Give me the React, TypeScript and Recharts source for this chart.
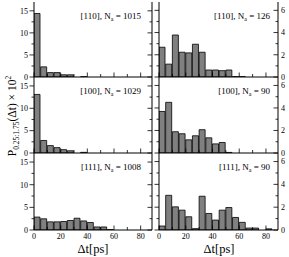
import React from 'react';
import { BarChart, Bar, XAxis, YAxis } from 'recharts';

// ---- data ----
const binCenters = [2.5, 7.5, 12.5, 17.5, 22.5, 27.5, 32.5, 37.5, 42.5, 47.5, 52.5, 57.5, 62.5, 67.5, 72.5, 77.5, 82.5];
const binWidth = 5;

const p110Left = [14.4, 2.3, 1.0, 1.0, 0.5, 0.5, 0, 0.08];
const p100Left = [13.1, 2.8, 1.66, 1.2, 0.75, 0.5, 0, 0.15];
const p111Left = [2.85, 2.47, 1.8, 1.8, 1.87, 2.1, 2.6, 2.0, 1.65, 0.67, 0.67, 0.08];

const p110Right = [2.68, 1.16, 3.78, 2.23, 2.17, 2.95, 2.23, 0.63, 0.63, 0.57, 0.63, 0.03, 0.03];
const p100Right = [3.69, 4.5, 1.89, 1.71, 1.17, 1.53, 2.07, 1.35, 0.81, 0.93, 0.05];
const p111Right = [0.35, 3.04, 2.03, 1.74, 1.16, 0.12, 2.96, 1.45, 0.87, 1.74, 1.97, 1.1, 0.67, 0.17, 0.17, 0, 0.1];

const xTicks = [0, 10, 20, 30, 40, 50, 60, 70, 80];
const leftYTicks = [0, 2.5, 5, 7.5, 10, 12.5, 15];
const rightYTicks = [0, 1, 2, 3, 4, 5, 6];

const labelsDir = ['[110]', '[100]', '[111]'];
const labelsNLeft = ['1015', '1029', '1008'];
const labelsNRight = ['126', '90', '90'];

const leftSeries = [p110Left, p100Left, p111Left];
const rightSeries = [p110Right, p100Right, p111Right];

// ---- layout ----
const colX = [34, 159];
const colW = [118, 119];
const colXMax = [88.5, 89];
const colYMax = [17, 6.75];
const rowY = [2, 77, 153];
const rowH = [75, 76, 77];
const AXL = 34;
const AXR = 12;
const MT = 6;
const AXB = 22;

const SERIF = '"Liberation Serif", "DejaVu Serif", "Times New Roman", serif';
const TICK_FS = 8;

const mkBottomTick = (showLabels: boolean) => (props: any) => {
  const { x, y, payload } = props;
  const major = payload.value % 20 === 0;
  return (
    <g>
      <line x1={x} y1={y} x2={x} y2={y - (major ? 4.5 : 3)} stroke="#000" strokeWidth={0.8} />
      {showLabels && major ? (
        <text x={x} y={y + 9} textAnchor="middle" fontFamily={SERIF} fontSize={TICK_FS} fill="#000">
          {payload.value}
        </text>
      ) : null}
    </g>
  );
};

const topTick = (props: any) => {
  const { x, y, payload } = props;
  const major = payload.value % 20 === 0;
  return <line x1={x} y1={y} x2={x} y2={y + (major ? 4.5 : 3)} stroke="#000" strokeWidth={0.8} />;
};

const mkLeftTick = (showLabels: boolean, majorStep: number) => (props: any) => {
  const { x, y, payload } = props;
  const major = payload.value % majorStep === 0;
  const len = major ? 4.5 : 2.5;
  return (
    <g>
      <line x1={x} y1={y} x2={x - len} y2={y} stroke="#000" strokeWidth={0.8} />
      {showLabels && major ? (
        <text x={x - 6} y={y + 2.8} textAnchor="end" fontFamily={SERIF} fontSize={TICK_FS} fill="#000">
          {payload.value}
        </text>
      ) : null}
    </g>
  );
};

const mkRightTick = (showLabels: boolean, majorStep: number) => (props: any) => {
  const { x, y, payload } = props;
  const major = payload.value % majorStep === 0;
  const len = major ? 4.5 : 2.5;
  return (
    <g>
      <line x1={x} y1={y} x2={x - len} y2={y} stroke="#000" strokeWidth={0.8} />
      {showLabels && major ? (
        <text x={x + 3} y={y + 2.8} textAnchor="start" fontFamily={SERIF} fontSize={TICK_FS} fill="#000">
          {payload.value}
        </text>
      ) : null}
    </g>
  );
};

function Panel({ row, col }: { row: number; col: number }) {
  const values = col === 0 ? leftSeries[row] : rightSeries[row];
  const data = values.map((v, i) => ({ x: binCenters[i], v }));
  const xMax = colXMax[col];
  const yMax = colYMax[col];
  const w = colW[col];
  const h = rowH[row];
  const yTicks = col === 0 ? leftYTicks : rightYTicks;
  const majorStep = col === 0 ? 5 : 2;
  const barSize = (w * binWidth) / xMax;
  const isBottom = row === 2;
  return (
    <div style={{ position: 'absolute', left: colX[col] - AXL, top: rowY[row] - MT }}>
      <BarChart
        width={AXL + w + AXR}
        height={MT + h + AXB}
        data={data}
        margin={{ top: MT, right: 0, bottom: 0, left: 0 }}
        barCategoryGap={0}
        barGap={0}
      >
        <XAxis
          xAxisId="b"
          dataKey="x"
          type="number"
          domain={[0, xMax]}
          ticks={xTicks}
          interval={0}
          allowDataOverflow
          height={AXB}
          tickSize={0}
          tickMargin={0}
          tickLine={false}
          axisLine={{ stroke: '#000', strokeWidth: 1 }}
          tick={mkBottomTick(isBottom)}
        />
        <XAxis
          xAxisId="t"
          orientation="top"
          dataKey="x"
          type="number"
          domain={[0, xMax]}
          ticks={xTicks}
          interval={0}
          allowDataOverflow
          height={0}
          tickSize={0}
          tickMargin={0}
          tickLine={false}
          axisLine={{ stroke: '#000', strokeWidth: 1 }}
          tick={topTick}
        />
        <YAxis
          yAxisId="l"
          type="number"
          domain={[0, yMax]}
          ticks={yTicks}
          interval={0}
          allowDataOverflow
          width={AXL}
          tickSize={0}
          tickMargin={0}
          tickLine={false}
          axisLine={{ stroke: '#000', strokeWidth: 1 }}
          tick={mkLeftTick(col === 0, majorStep)}
        />
        <YAxis
          yAxisId="r"
          orientation="right"
          type="number"
          domain={[0, yMax]}
          ticks={yTicks}
          interval={0}
          allowDataOverflow
          width={AXR}
          tickSize={0}
          tickMargin={0}
          tickLine={false}
          axisLine={{ stroke: '#000', strokeWidth: 1 }}
          tick={mkRightTick(col === 1, majorStep)}
        />
        <Bar
          dataKey="v"
          xAxisId="b"
          yAxisId="l"
          fill="#808080"
          stroke="#000"
          strokeWidth={0.8}
          barSize={barSize}
          isAnimationActive={false}
        />
      </BarChart>
    </div>
  );
}

export default function App() {
  const rows = [0, 1, 2];
  return (
    <div style={{ position: 'absolute', left: 0, top: 0, width: 289, height: 257, background: '#fff' }}>
      {rows.map((r) => (
        <React.Fragment key={r}>
          <Panel row={r} col={0} />
          <Panel row={r} col={1} />
        </React.Fragment>
      ))}
      <svg
        width={289}
        height={257}
        style={{ position: 'absolute', left: 0, top: 0, pointerEvents: 'none' }}
      >
        {rows.map((r) => (
          <React.Fragment key={r}>
            <text x={141} y={rowY[r] + 17} textAnchor="end" fontFamily={SERIF} fontSize={9} fill="#000">
              {labelsDir[r]}, N
              <tspan fontSize={6} dy={2}>a</tspan>
              <tspan dy={-2}> = {labelsNLeft[r]}</tspan>
            </text>
            <text x={270} y={rowY[r] + 17} textAnchor="end" fontFamily={SERIF} fontSize={9} fill="#000">
              {labelsDir[r]}, N
              <tspan fontSize={6} dy={2}>a</tspan>
              <tspan dy={-2}> = {labelsNRight[r]}</tspan>
            </text>
          </React.Fragment>
        ))}
        <text x={93} y={252.5} textAnchor="middle" fontFamily={SERIF} fontSize={12.5} fill="#000">
          Δt[ps]
        </text>
        <text x={219} y={252.5} textAnchor="middle" fontFamily={SERIF} fontSize={12.5} fill="#000">
          Δt[ps]
        </text>
        <text
          transform="translate(16,116) rotate(-90)"
          textAnchor="middle"
          fontFamily={SERIF}
          fontSize={11.5}
          fill="#000"
        >
          P
          <tspan fontSize={7.5} dy={3}>0.25:1.75</tspan>
          <tspan dy={-3}>(Δt) × 10</tspan>
          <tspan fontSize={7.5} dy={-5}>2</tspan>
        </text>
      </svg>
    </div>
  );
}
